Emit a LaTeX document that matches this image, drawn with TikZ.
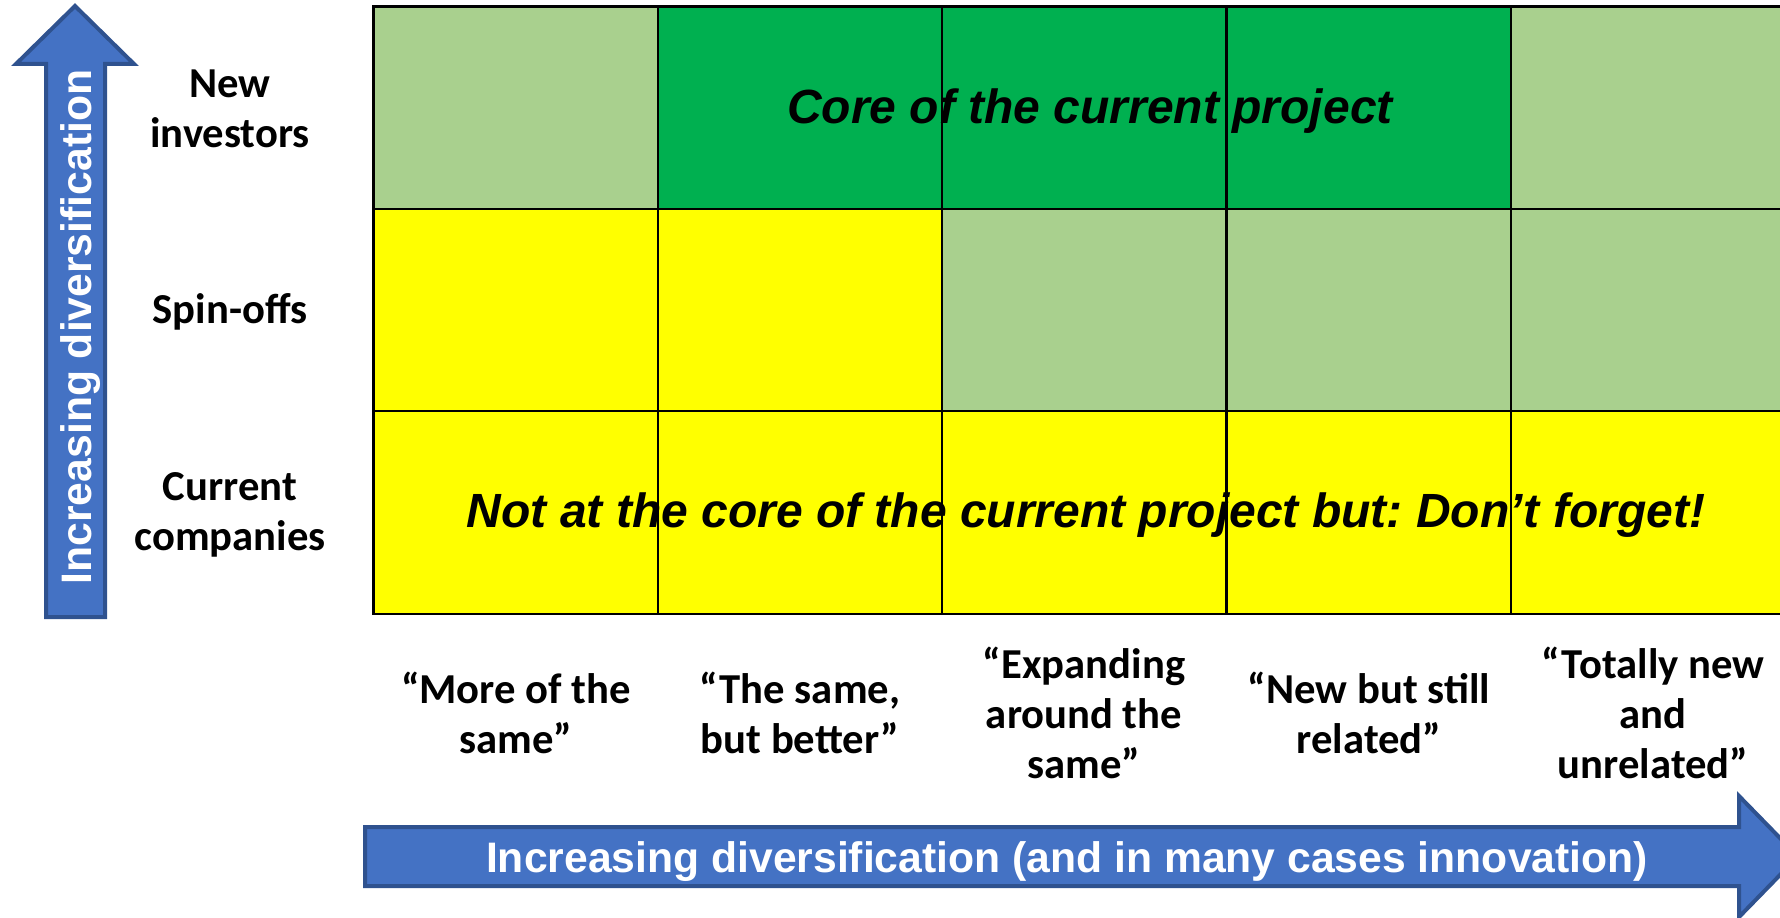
\documentclass[tikz,border=0pt]{standalone}
\usepackage{fontspec}
\setmainfont{Carlito}
\newfontfamily\arialfont{Liberation Sans}
\definecolor{lgreen}{HTML}{A9D08E}
\definecolor{dgreen}{HTML}{00B050}
\definecolor{yel}{HTML}{FFFF00}
\definecolor{arrowblue}{HTML}{4472C4}
\definecolor{arrowedge}{HTML}{2F528F}
\frenchspacing
\begin{document}
\begin{tikzpicture}[x=0.75pt,y=-0.75pt,
  lab/.style={font=\bfseries\fontsize{32}{37.5}\selectfont, align=center, anchor=base, inner sep=0pt},
  arrowtxt/.style={font=\arialfont\bfseries\fontsize{32}{38}\selectfont, text=white, anchor=base, inner sep=0pt},
  bigtxt/.style={font=\arialfont\bfseries\itshape\fontsize{36}{43}\selectfont, anchor=base, inner sep=0pt},
  bigarrow/.style={fill=arrowblue, draw=arrowedge, line width=3pt, line join=miter},
  gridline/.style={line width=2.2pt, draw=black}]
\useasboundingbox (0,0) rectangle (1780,917);
\clip (0,0) rectangle (1780,917);
% cell fills
\fill[lgreen] (373.5,6.5) rectangle (658,209);
\fill[dgreen] (658,6.5) rectangle (1511,209);
\fill[lgreen] (1511,6.5) rectangle (1795,209);
\fill[yel] (373.5,209) rectangle (942,411);
\fill[lgreen] (942,209) rectangle (1795,411);
\fill[yel] (373.5,411) rectangle (1795,614);
% texts in grid
\node[bigtxt] (core) at (1090,123) {Core of the current project};
\node[bigtxt] (notcore) at (1086,527) {Not at the core of the current project but: Don’t forget!};
% grid lines
\draw[gridline] (373.5,6.5) rectangle (1795,614);
\foreach \yy in {209,411} \draw[gridline] (373.5,\yy) -- (1795,\yy);
\foreach \xx in {658,942,1226.5,1511} \draw[gridline] (\xx,6.5) -- (\xx,614);
% row labels (anchor = baseline of the last line)
\node[lab] (newinv) at (230,147) {New\\investors};
\node[lab] (spin) at (230,323) {Spin-offs};
\node[lab] (curr) at (230,550) {Current\\companies};
% column labels
\node[lab] (col1) at (516,753) {“More of the\\same”};
\node[lab] (col2) at (800,753) {“The same,\\but better”};
\node[lab] (col3) at (1084,778) {“Expanding\\around the\\same”};
\node[lab] (col4) at (1369,753) {“New but still\\related”};
\node[lab] (col5) at (1653,778) {“Totally new\\and\\unrelated”};
% arrows
\draw[bigarrow] (75,6) -- (16,64) -- (46,64) -- (46,617) -- (105,617) -- (105,64) -- (134,64) -- cycle;
\node[arrowtxt, rotate=90] (vtxt) at (91,327) {Increasing diversification};
\draw[bigarrow] (365,827) -- (1739,827) -- (1739,796) -- (1798,856.5) -- (1739,917) -- (1739,886) -- (365,886) -- cycle;
\node[arrowtxt] (htxt) at (1067,872) {Increasing diversification (and in many cases innovation)};
\end{tikzpicture}
\end{document}
